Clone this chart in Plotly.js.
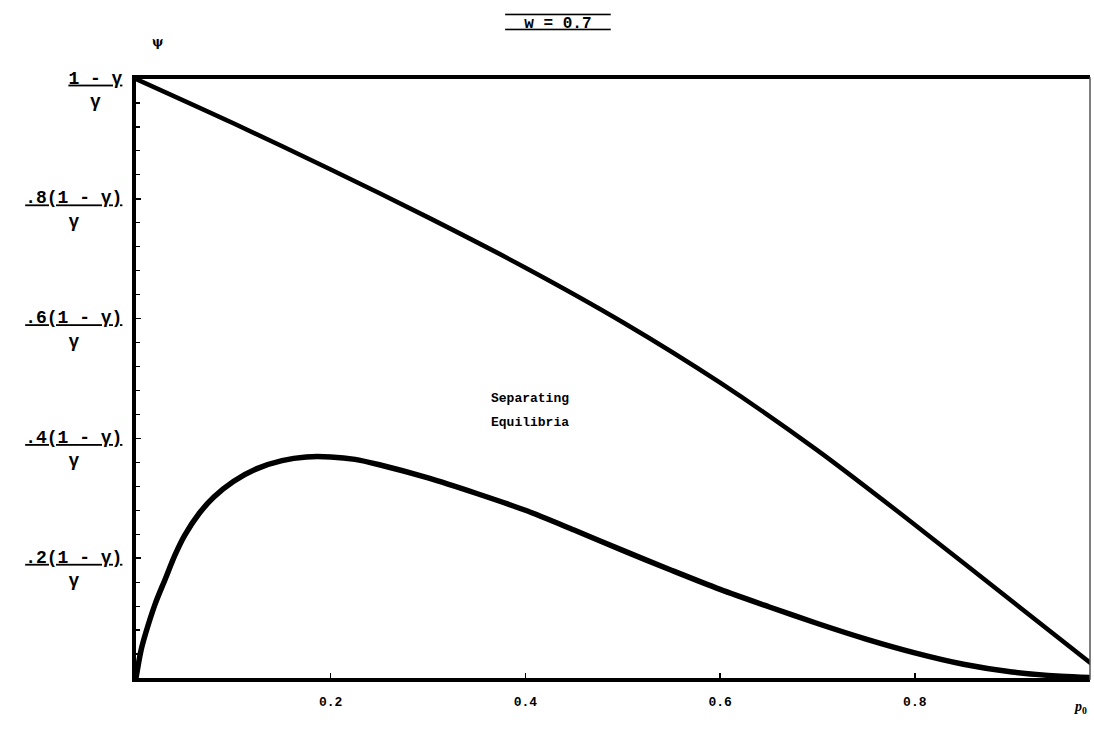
<!DOCTYPE html>
<html>
<head>
<meta charset="utf-8">
<script src="https://cdn.plot.ly/plotly-3.0.1.min.js"></script>
<style>html,body{margin:0;padding:0;background:#fff;}#chart{width:1094px;height:736px;}</style>
</head>
<body>
<div id="chart"></div>
<script>
// Upper boundary curve (psi in units of (1-gamma)/gamma) vs p0
const upperX = [0, 0.1, 0.2, 0.3, 0.4, 0.5, 0.6, 0.7, 0.8, 0.9, 1.0];
const upperY = [1.0, 0.926, 0.849, 0.769, 0.685, 0.594, 0.493, 0.380, 0.256, 0.128, 0.0];

// Lower boundary curve
const lowerX = [0, 0.005, 0.01, 0.02, 0.03, 0.04, 0.05, 0.065, 0.08, 0.1, 0.125, 0.15, 0.175, 0.2, 0.225, 0.25, 0.3, 0.35, 0.4, 0.45, 0.5, 0.55, 0.6, 0.65, 0.7, 0.75, 0.8, 0.85, 0.9, 0.95, 1.0];
const lowerY = [0, 0.045, 0.075, 0.125, 0.165, 0.205, 0.238, 0.275, 0.302, 0.328, 0.350, 0.363, 0.369, 0.369, 0.365, 0.356, 0.334, 0.308, 0.280, 0.247, 0.213, 0.180, 0.148, 0.119, 0.091, 0.065, 0.042, 0.023, 0.010, 0.003, 0];

// Tick labels
const xTickVals = [0.2, 0.4, 0.6, 0.8];
const xTickText = ["0.2", "0.4", "0.6", "0.8"];
const yTickVals = [0.2, 0.4, 0.6, 0.8, 1.0];
const yTickNum = [".2(1 - γ)", ".4(1 - γ)", ".6(1 - γ)", ".8(1 - γ)", "1 - γ"];
const yTickDen = "γ";

const titleText = "w = 0.7";
const regionLines = ["Separating", "Equilibria"];
const yLabel = "ψ";
const xLabel = "<i>p</i><sub>0</sub>";

const MONO = "Liberation Mono, DejaVu Sans Mono, monospace";
const NB = "\u00A0";
const ULINE = "text-decoration:underline;text-decoration-skip-ink:none";

function fracLabel(num) {
  const pad = Math.max(0, num.length - yTickDen.length);
  const left = Math.floor(pad / 2), right = pad - left;
  return "<b><span style=\"" + ULINE + "\">" + num + "</span></b><br><b>" + NB.repeat(left) + yTickDen + NB.repeat(right) + "</b>";
}

const traces = [
  {x: upperX, y: upperY, mode: "lines", line: {color: "#000", width: 4.5, shape: "spline", smoothing: 0.8}, hoverinfo: "skip", showlegend: false},
  {x: lowerX, y: lowerY, mode: "lines", line: {color: "#000", width: 5.5, shape: "spline", smoothing: 0.8}, hoverinfo: "skip", showlegend: false}
];

const annotations = [
  {xref: "x", yref: "y", x: 0.405, y: 0.466, text: "<b>" + regionLines[0] + "</b>", showarrow: false, xanchor: "center", yanchor: "middle", font: {family: MONO, size: 13, color: "#000"}},
  {xref: "x", yref: "y", x: 0.405, y: 0.426, text: "<b>" + regionLines[1] + "</b>", showarrow: false, xanchor: "center", yanchor: "middle", font: {family: MONO, size: 13, color: "#000"}},
  {xref: "paper", yref: "paper", x: 0.023, y: 1.062, text: "<b>" + yLabel + "</b>", showarrow: false, xanchor: "center", yanchor: "middle", font: {family: "DejaVu Serif, serif", size: 12, color: "#000"}},
  {xref: "paper", yref: "paper", x: 0.99, y: -0.05, text: "<b>" + xLabel + "</b>", showarrow: false, xanchor: "center", yanchor: "middle", font: {family: "Liberation Serif, serif", size: 14, color: "#000"}}
];

const layout = {
  width: 1094, height: 736,
  margin: {l: 136, r: 4, t: 79, b: 58, pad: 0},
  paper_bgcolor: "#fff", plot_bgcolor: "#fff",
  showlegend: false,
  title: {
    text: "<b><span style=\"text-decoration:underline overline;text-decoration-skip-ink:none\">" + NB + NB + titleText + NB + NB + "</span></b>",
    x: 0.51, xref: "container", xanchor: "center",
    y: 0.97, yref: "container", yanchor: "middle",
    font: {family: MONO, size: 16, color: "#000"}
  },
  xaxis: {
    range: [0, 0.98], showgrid: false, zeroline: false,
    showline: true, linecolor: "#000", linewidth: 4, mirror: true,
    tickvals: xTickVals, ticktext: xTickText,
    ticks: "inside", ticklen: 5, tickwidth: 1.5, tickcolor: "#000",
    ticklabelstandoff: 8,
    tickfont: {family: MONO, size: 13, color: "#000", weight: "bold"}
  },
  yaxis: {
    range: [0, 1], showgrid: false, zeroline: false,
    showline: true, linecolor: "#000", linewidth: 4, mirror: false,
    tickvals: yTickVals, ticktext: yTickNum.map(fracLabel),
    ticks: "inside", ticklen: 5, tickwidth: 1.5, tickcolor: "#000",
    minor: {dtick: 0.04, tick0: 0, ticks: "inside", ticklen: 4, tickwidth: 1.2, tickcolor: "#000", showgrid: false},
    ticklabelshift: 10, ticklabelstandoff: 6,
    tickfont: {family: MONO, size: 18, color: "#000"}
  },
  shapes: [
    {type: "line", xref: "paper", yref: "paper", x0: 1, x1: 1, y0: -0.003, y1: 1.003, line: {color: "#555", width: 1.5}}
  ],
  annotations: annotations
};

Plotly.newPlot("chart", traces, layout, {staticPlot: true, displayModeBar: false});
</script>
</body>
</html>
